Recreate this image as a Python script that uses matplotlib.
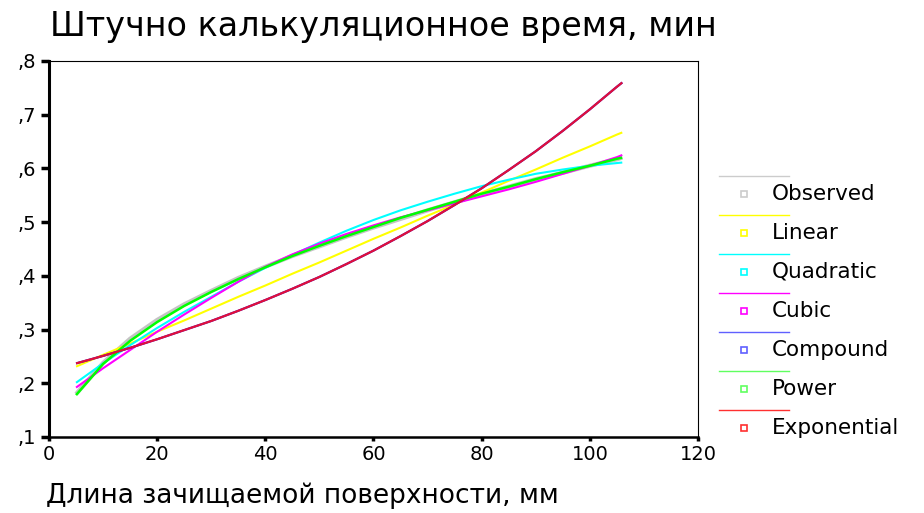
import matplotlib
matplotlib.use("Agg")
import matplotlib.pyplot as plt
from matplotlib.lines import Line2D

plt.rcParams['font.family'] = ['DejaVu Sans']

# ---- data ----
x_vals = [5, 10, 15, 20, 25, 30, 35, 40, 45, 50, 55, 60, 65, 70, 75, 80, 85, 90, 95, 100, 105, 106]
observed = [0.180, 0.238, 0.283, 0.318, 0.347, 0.372, 0.396, 0.417, 0.437, 0.455, 0.473, 0.490, 0.506, 0.522, 0.537, 0.552, 0.566, 0.580, 0.592, 0.605, 0.617, 0.620]
linear = [0.231, 0.253, 0.274, 0.296, 0.317, 0.339, 0.361, 0.382, 0.404, 0.425, 0.447, 0.469, 0.490, 0.512, 0.533, 0.555, 0.577, 0.598, 0.620, 0.641, 0.663, 0.667]
quadratic = [0.201, 0.237, 0.271, 0.303, 0.333, 0.361, 0.389, 0.415, 0.439, 0.462, 0.484, 0.504, 0.522, 0.538, 0.553, 0.567, 0.579, 0.590, 0.598, 0.605, 0.610, 0.611]
cubic = [0.192, 0.228, 0.262, 0.296, 0.328, 0.359, 0.389, 0.417, 0.440, 0.460, 0.478, 0.494, 0.509, 0.522, 0.535, 0.548, 0.561, 0.575, 0.590, 0.605, 0.621, 0.625]
compound = [0.237, 0.251, 0.266, 0.282, 0.299, 0.316, 0.335, 0.355, 0.376, 0.398, 0.422, 0.447, 0.474, 0.502, 0.532, 0.563, 0.597, 0.632, 0.670, 0.710, 0.752, 0.760]
power = [0.178, 0.236, 0.279, 0.314, 0.344, 0.370, 0.394, 0.416, 0.437, 0.456, 0.474, 0.491, 0.508, 0.523, 0.538, 0.553, 0.566, 0.580, 0.593, 0.605, 0.618, 0.620]
exponential = [0.237, 0.251, 0.266, 0.282, 0.299, 0.316, 0.335, 0.355, 0.376, 0.398, 0.422, 0.447, 0.474, 0.502, 0.532, 0.563, 0.597, 0.632, 0.670, 0.710, 0.752, 0.760]

series_names = ["Observed", "Linear", "Quadratic", "Cubic", "Compound", "Power", "Exponential"]
series_data = [observed, linear, quadratic, cubic, compound, power, exponential]
series_colors = ["#c4c4c4", "#ffff00", "#00ffff", "#ff00ff", "#0000ff", "#00ff00", "#e0103a"]
legend_colors = ["#cccccc", "#ffff00", "#00ffff", "#ff00ff", "#6060ff", "#60ff60", "#ff3030"]
series_widths = [3.0, 1.5, 1.5, 1.5, 1.5, 1.8, 1.6]

x_ticks = [0, 20, 40, 60, 80, 100, 120]
y_ticks = [0.1, 0.2, 0.3, 0.4, 0.5, 0.6, 0.7, 0.8]
y_ticklabels = [",1", ",2", ",3", ",4", ",5", ",6", ",7", ",8"]

title_text = "Штучно калькуляционное время, мин"
xlabel_text = "Длина зачищаемой поверхности, мм"

W, H = 924, 513
fig = plt.figure(figsize=(W / 100, H / 100), dpi=100)
ax = fig.add_axes([49 / W, 1 - 437 / H, (698 - 49) / W, (437 - 61) / H])

for name, data, col, lw in zip(series_names, series_data, series_colors, series_widths):
    ax.plot(x_vals, data, color=col, lw=lw, solid_capstyle='butt')

ax.set_xlim(0, 120)
ax.set_ylim(0.1, 0.8)
ax.set_xticks(x_ticks)
ax.set_xticklabels([str(t) for t in x_ticks])
ax.set_yticks(y_ticks)
ax.set_yticklabels(y_ticklabels)

ax.spines['left'].set_linewidth(2.2)
ax.spines['bottom'].set_linewidth(1.8)
ax.spines['top'].set_linewidth(0.8)
ax.spines['right'].set_linewidth(0.8)
ax.tick_params(axis='y', direction='out', length=6, width=2.5, labelsize=14, pad=3)
ax.tick_params(axis='x', direction='out', length=3, width=2.5, labelsize=14, pad=3)

fig.text(50 / W, 1 - 36 / H, title_text, fontsize=24, va='baseline', ha='left')
fig.text(46 / W, 1 - 503 / H, xlabel_text, fontsize=19, va='baseline', ha='left')

# legend (SPSS style: line above, small square marker with label below)
for i, (name, col) in enumerate(zip(series_names, legend_colors)):
    yl = 176 + 39 * i
    ym = yl + 18
    fig.add_artist(Line2D([719 / W, 789 / W], [1 - yl / H, 1 - yl / H], color=col, lw=1.0,
                          transform=fig.transFigure))
    fig.add_artist(Line2D([744 / W], [1 - ym / H], marker='s', markersize=5, markerfacecolor='white',
                          markeredgecolor=col, markeredgewidth=1.2, linestyle='none',
                          transform=fig.transFigure))
    fig.text(772 / W, 1 - ym / H, name, fontsize=15.5, va='center', ha='left')

fig.savefig("out.png", dpi=100)
